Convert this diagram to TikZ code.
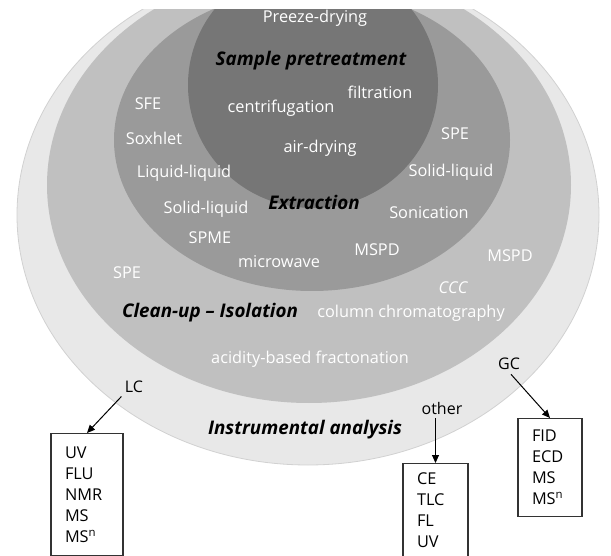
\documentclass[tikz,border=0pt]{standalone}
\usepackage{fontspec}
\setmainfont{Open Sans}
\usetikzlibrary{arrows.meta}
\definecolor{ringinst}{HTML}{E8E8E8}
\definecolor{ringclean}{HTML}{C0C0C0}
\definecolor{ringextr}{HTML}{9A9A9A}
\definecolor{ringsamp}{HTML}{767676}
\tikzstyle{lbl}=[text=white, inner sep=1pt, font=\fontsize{16.3}{18}\selectfont]
\tikzstyle{stage}=[text=black, inner sep=1pt, font=\fontsize{18.8}{20}\selectfont\bfseries\itshape]
\tikzstyle{tech}=[text=black, inner sep=2pt, font=\fontsize{16}{18}\selectfont]
\tikzstyle{methods}=[draw=black!80, line width=1.2pt, anchor=north, align=left, inner xsep=14pt, font=\fontsize{16.3}{21}\selectfont]

\begin{document}
\begin{tikzpicture}[x=1pt,y=-1pt]
  \useasboundingbox (0,0) rectangle (611,556);

  % the four stages, clipped at the top
  \begin{scope}
    \clip (0,10) rectangle (611,556);
    \fill[ringinst, draw=black!18, line width=0.8pt] (308,215) ellipse [x radius=291pt, y radius=250pt];
    \fill[ringclean] (309,185) ellipse [x radius=262pt, y radius=218pt];
    \fill[ringextr] (312,140) ellipse [x radius=198pt, y radius=151pt];
    \fill[ringsamp] (313,85) ellipse [x radius=125pt, y radius=123pt];
  \end{scope}

  \node[lbl] (prz) at (315,18) {Preeze-drying};
  \node[stage] (samp) at (311,61) {Sample pretreatment};
  \node[lbl] (filt) at (380,92) {filtration};
  \node[lbl] (cent) at (281,108) {centrifugation};
  \node[lbl] (airdr) at (320,148) {air-drying};

  \node[lbl] (sfe) at (148,104) {SFE};
  \node[lbl] (soxh) at (154,138) {Soxhlet};
  \node[lbl] (spea) at (455,134) {SPE};
  \node[lbl] (liqliq) at (184,173) {Liquid-liquid};
  \node[lbl] (solliqa) at (451,172) {Solid-liquid};
  \node[stage] (extr) at (314,202) {Extraction};
  \node[lbl] (solliqb) at (206,209) {Solid-liquid};
  \node[lbl] (sonic) at (429,213) {Sonication};
  \node[lbl] (spme) at (210,238) {SPME};
  \node[lbl] (mspda) at (377,250) {MSPD};
  \node[lbl] (micro) at (279,262) {microwave};

  \node[lbl] (mspdb) at (510,256) {MSPD};
  \node[lbl] (speb) at (127,273) {SPE};
  \node[lbl, font=\fontsize{16.3}{18}\selectfont\itshape] (ccc) at (453,288) {CCC};
  \node[stage] (clean) at (210,313) {Clean-up -- Isolation};
  \node[lbl] (colch) at (411,313) {column chromatography};
  \node[lbl] (acid) at (310,359) {acidity-based fractonation};

  \node[tech] (gc) at (509,364) {GC};
  \node[tech] (lc) at (134,387) {LC};
  \node[tech] (oth) at (442,408) {other};
  \node[stage] (instr) at (305,430) {Instrumental analysis};

  \node[methods, text width=44pt, minimum height=122pt] (lcbox) at (87,433)
    {UV\\FLU\\NMR\\MS\\MS\textsuperscript{n}};
  \node[methods, text width=37pt, minimum height=93pt] (othbox) at (435.5,463)
    {CE\\TLC\\FL\\UV};
  \node[methods, text width=36pt, minimum height=98pt] (gcbox) at (550,418)
    {FID\\ECD\\MS\\MS\textsuperscript{n}};

  \draw[-{Triangle[length=8pt,width=7pt]}, line width=1pt, shorten <=2pt] (lc.south west) -- (lcbox.north);
  \draw[-{Triangle[length=8pt,width=7pt]}, line width=1pt, shorten <=2pt] (oth.south -| othbox.north) -- (othbox.north);
  \draw[-{Triangle[length=8pt,width=7pt]}, line width=1pt, shorten <=3pt] (gc.south) -- (gcbox.north);
\end{tikzpicture}
\end{document}
